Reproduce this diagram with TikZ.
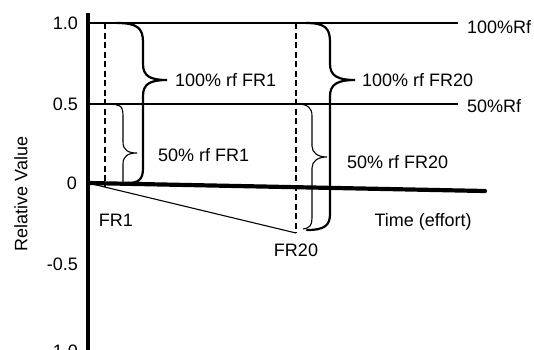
\documentclass[tikz,border=0pt]{standalone}
\usepackage{fontspec}
\setmainfont{Liberation Sans}
\begin{document}
\begin{tikzpicture}[x=1pt,y=-1pt,
  lbl/.style={inner sep=0pt,font=\fontsize{18}{21}\selectfont},
  thinline/.style={line width=1.1pt},
  dashline/.style={line width=1.1pt,dash pattern=on 6pt off 3.5pt},
  bigbrace/.style={line width=2.2pt,line cap=round},
  smallbrace/.style={line width=1.1pt},
  axis/.style={line width=4.2pt}]
\useasboundingbox (0,0) rectangle (534,349);
% key points
\coordinate (O) at (88,183);
\coordinate (ytop) at (88,13);
\coordinate (ybot) at (88,352);
\coordinate (xend) at (485,191);
\coordinate (h1a) at (88,23);
\coordinate (h1b) at (458,23);
\coordinate (h5a) at (88,104);
\coordinate (h5b) at (458,104);
\coordinate (d1t) at (105,23);
\coordinate (d1b) at (105,187);
\coordinate (d2t) at (296,23);
\coordinate (d2b) at (296,233);
% reference lines
\draw[thinline] (h1a) -- (h1b);
\draw[thinline] (h5a) -- (h5b);
\draw[dashline] (d1t) -- (d1b);
\draw[dashline] (d2t) -- (d2b);
\draw[thinline] (O) -- (d2b);
% axes
\draw[axis] (ytop) -- (ybot);
\draw[axis,line cap=round] (O) -- (xend);
% braces FR1
\draw[bigbrace] (117,23) .. controls (137,23) and (143,28) .. (143,42)
  -- (143,64) .. controls (143,76) and (150,80) .. (167,80)
  .. controls (150,80) and (143,84) .. (143,96)
  -- (143,168) .. controls (143,179) and (139,183) .. (128,183);
\draw[smallbrace] (116,105) .. controls (121,105) and (123,108) .. (123,115)
  -- (123,142) .. controls (123,150) and (128,153) .. (137,153)
  .. controls (128,153) and (123,156) .. (123,164)
  -- (123,184);
% braces FR20
\draw[bigbrace] (306,23) .. controls (325,23) and (330,28) .. (330,42)
  -- (330,64) .. controls (330,76) and (338,80) .. (355,80)
  .. controls (338,80) and (330,84) .. (330,96)
  -- (330,214) .. controls (330,225) and (325,230) .. (307,230);
\draw[smallbrace] (297,104) .. controls (308,104) and (312,108) .. (312,116)
  -- (312,146) .. controls (312,153) and (318,157) .. (327,157)
  .. controls (318,157) and (312,161) .. (312,168)
  -- (312,218) .. controls (312,225) and (310,228) .. (303,229);
% labels
\node[lbl,anchor=west] (l100fr1) at (175,80) {100\% rf FR1};
\node[lbl,anchor=west] (l50fr1) at (158,155) {50\% rf FR1};
\node[lbl,anchor=west] (l100fr20) at (362,80) {100\% rf FR20};
\node[lbl,anchor=west] (l50fr20) at (347,162) {50\% rf FR20};
\node[lbl,anchor=west] (l100rf) at (467,27) {100\%Rf};
\node[lbl,anchor=west] (l50rf) at (467,106) {50\%Rf};
\node[lbl] (fr1) at (116,220) {FR1};
\node[lbl] (fr20) at (296,250) {FR20};
\node[lbl] (time) at (423,222) {Time (effort)};
\node[lbl,rotate=90] (rv) at (21,194) {Relative Value};
\node[lbl,anchor=east] (t10) at (78,23) {1.0};
\node[lbl,anchor=east] (t05) at (78,104) {0.5};
\node[lbl,anchor=east] (t0) at (77,183) {0};
\node[lbl,anchor=east] (tm05) at (78,264) {-0.5};
\node[lbl,anchor=east] (tm10) at (78,351) {-1.0};
\end{tikzpicture}
\end{document}
